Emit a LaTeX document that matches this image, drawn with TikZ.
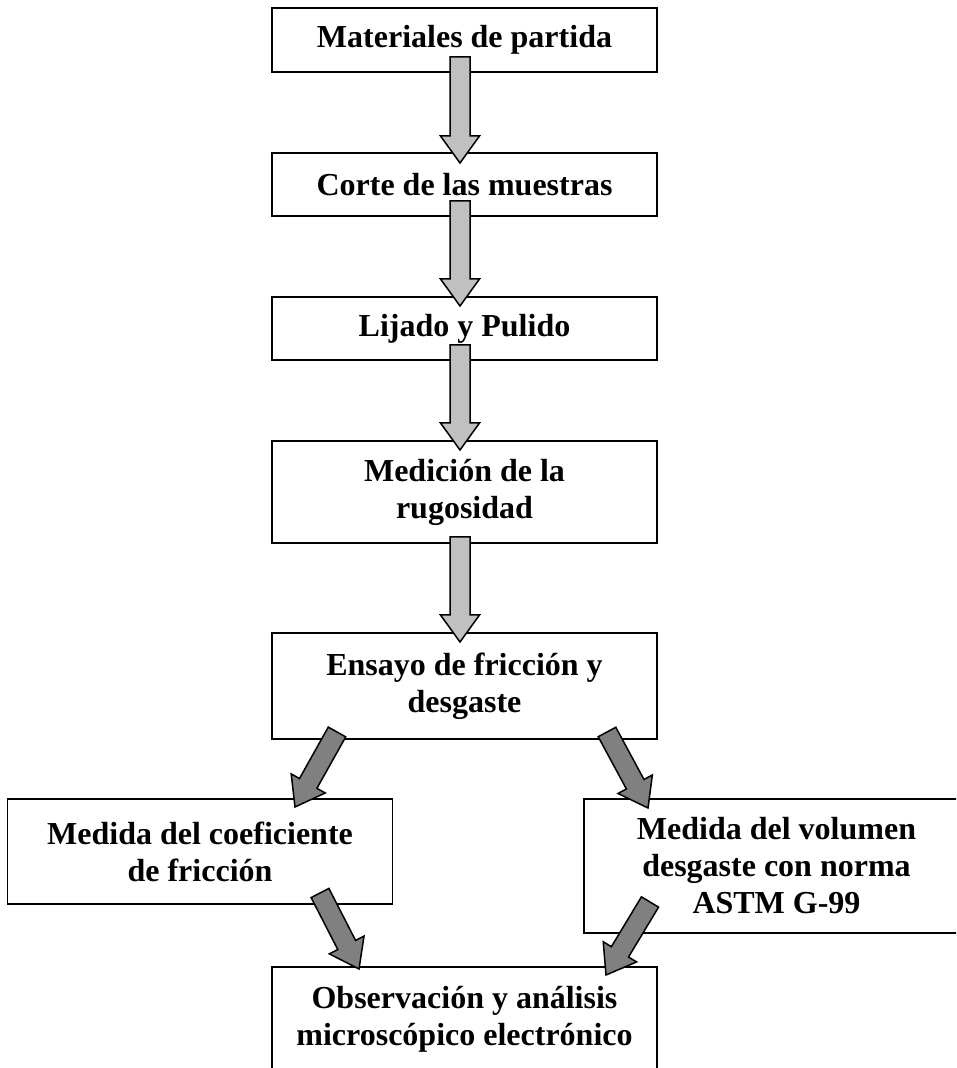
\documentclass[tikz,border=0pt]{standalone}
\usepackage{fontspec}
\setmainfont{Liberation Serif}
\usetikzlibrary{positioning,calc}

\definecolor{lightarrow}{RGB}{192,192,192}
\definecolor{darkarrow}{RGB}{128,128,128}

% block arrow: #1 fill, #2 tail, #3 tip
\newcommand{\fatarrow}[3]{%
  \coordinate (fh) at ($(#3)!27pt!(#2)$);
  \filldraw[fill=#1, line width=1.5pt, line join=miter]
    ($(#2)!10pt!90:(#3)$) -- ($(fh)!10pt!90:(#3)$) -- ($(fh)!19.5pt!90:(#3)$) -- (#3)
    -- ($(fh)!19.5pt!-90:(#3)$) -- ($(fh)!10pt!-90:(#3)$) -- ($(#2)!10pt!-90:(#3)$) -- cycle;}

\begin{document}
\begin{tikzpicture}[x=1pt, y=1pt,
                    main node/.style={rectangle,draw,line width=1.8pt,outer sep=0pt,inner sep=2pt,
                                      minimum width=385pt,align=center,
                                      font=\fontsize{32}{37}\selectfont\bfseries}]

  \useasboundingbox (0,0) rectangle (956,1068);
  \clip (0,0) rectangle (956,1068);

  \node[main node] (mat) [minimum height=64pt] at (464.5,1028) {Materiales de partida};
  \node[main node] (corte) [below=81pt of mat, minimum height=63pt] {Corte de las muestras};
  \node[main node] (lijado) [below=81pt of corte, minimum height=63pt] {Lijado y Pulido};
  \node[main node] (rugos) [below=81pt of lijado, minimum height=102pt] {Medición de la\\rugosidad};
  \node[main node] (ensayo) [below=90pt of rugos, minimum height=106pt] {Ensayo de fricción y\\desgaste};
  \node[main node] (coef) [below=60pt of ensayo, xshift=-264.5pt, minimum height=105pt] {Medida del coeficiente\\de fricción};
  \node[main node] (vol) [below=60pt of ensayo, xshift=312pt, minimum height=134pt] {Medida del volumen\\desgaste con norma\\ASTM G-99};
  \node[main node] (obs) [below=228pt of ensayo, minimum height=104pt] {Observación y análisis\\microscópico electrónico};

  % arrow ends
  \coordinate (t1) at ([shift={(-4.5,15)}]mat.south);
  \coordinate (p1) at ([shift={(-4.5,-10)}]corte.north);
  \coordinate (t2) at ([shift={(-4.5,15)}]corte.south);
  \coordinate (p2) at ([shift={(-4.5,-9)}]lijado.north);
  \coordinate (t3) at ([shift={(-4.5,15)}]lijado.south);
  \coordinate (p3) at ([shift={(-4.5,-9)}]rugos.north);
  \coordinate (t4) at ([shift={(-4.5,6)}]rugos.south);
  \coordinate (p4) at ([shift={(-4.5,-9)}]ensayo.north);
  \coordinate (t5) at ([shift={(-127.5,7)}]ensayo.south);
  \coordinate (p5) at ([shift={(95,-8)}]coef.north);
  \coordinate (t6) at ([shift={(142.5,7)}]ensayo.south);
  \coordinate (p6) at ([shift={(-128.5,-9)}]vol.north);
  \coordinate (t7) at ([shift={(120,11)}]coef.south);
  \coordinate (p7) at ([shift={(-105.5,-2)}]obs.north);
  \coordinate (t8) at ([shift={(-126.5,31)}]vol.south);
  \coordinate (p8) at ([shift={(141.5,-8)}]obs.north);

  \fatarrow{lightarrow}{t1}{p1}
  \fatarrow{lightarrow}{t2}{p2}
  \fatarrow{lightarrow}{t3}{p3}
  \fatarrow{lightarrow}{t4}{p4}
  \fatarrow{darkarrow}{t5}{p5}
  \fatarrow{darkarrow}{t6}{p6}
  \fatarrow{darkarrow}{t7}{p7}
  \fatarrow{darkarrow}{t8}{p8}

\end{tikzpicture}
\end{document}
